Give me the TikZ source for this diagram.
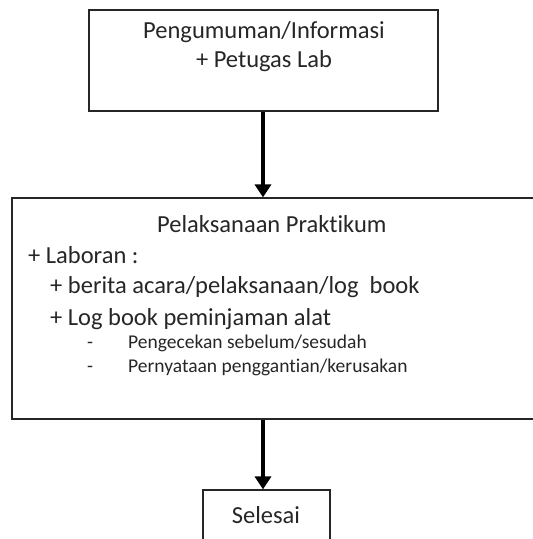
\documentclass[tikz,border=0pt]{standalone}
\usepackage{fontspec}
\setmainfont{Carlito}[Ligatures=NoCommon]
\usetikzlibrary{arrows.meta}
\tikzset{
  box/.style={draw=black!85, line width=1.2pt, rectangle, inner sep=0pt},
  big/.style={font=\fontsize{24.5}{29}\selectfont, text=black!85, inner sep=0pt, anchor=base west},
  small/.style={font=\fontsize{19.5}{23}\selectfont, text=black!85, inner sep=0pt, anchor=base west},
  flow/.style={line width=4pt, -{Triangle[width=16pt 0,length=13pt 0]}}
}
\begin{document}
\begin{tikzpicture}[x=1pt,y=-1pt]
\useasboundingbox (0,0) rectangle (533,539);
\clip (0,0) rectangle (533,539);
% boxes
\node[box, minimum width=349pt, minimum height=101pt] (info) at (263.5,60.5) {};
\node[box, minimum width=533pt, minimum height=221pt] (prak) at (278.5,308.5) {};
\node[box, minimum width=127pt, minimum height=80pt] (sel) at (266.5,530) {};
% texts
\node[big, anchor=base] (t1) at (264,38) {Pengumuman/Informasi};
\node[big, anchor=base] (t2) at (264,67) {+ Petugas Lab};
\node[big] (t3) at (157,232) {Pelaksanaan Praktikum};
\node[big] (t4) at (28,263) {+ Laboran :};
\node[big] (t5) at (50,293) {+ berita acara/pelaksanaan/log\ \ book};
\node[big] (t6) at (50,325) {+ Log book peminjaman alat};
\node[small] (d1) at (87,348) {-};
\node[small] (s1) at (128,348) {Pengecekan sebelum/sesudah};
\node[small] (d2) at (87,372) {-};
\node[small] (s2) at (128,372) {Pernyataan penggantian/kerusakan};
\node[big, anchor=base] (t7) at (266,523) {Selesai};
% connectors
\draw[flow] (info.south -| 263,0) -- (263,0 |- prak.north);
\draw[flow] (263,0 |- prak.south) -- (263,0 |- sel.north);
\end{tikzpicture}
\end{document}
